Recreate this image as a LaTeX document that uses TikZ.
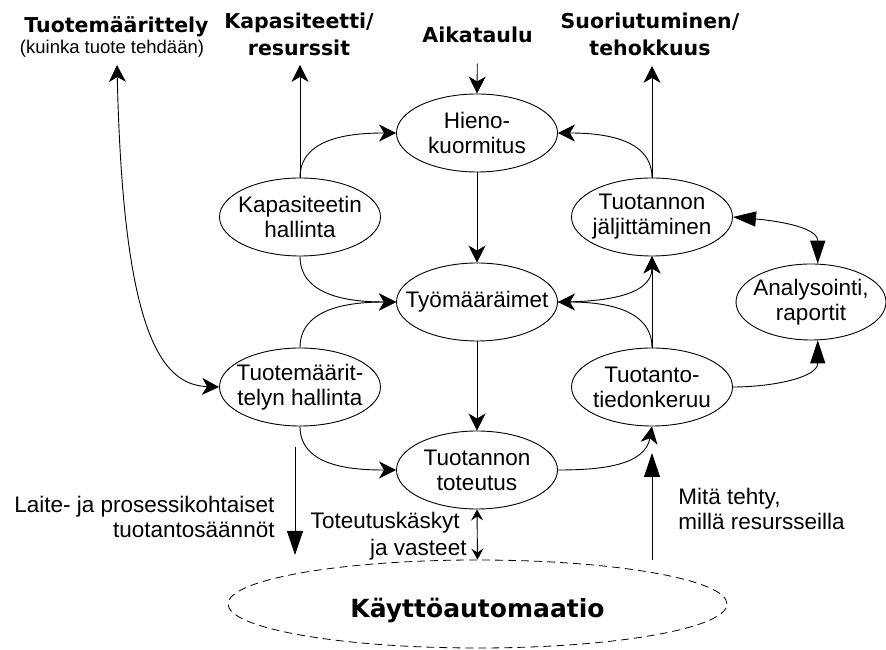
\documentclass[tikz,border=0pt]{standalone}
\usepackage{fontspec}
\setmainfont{Liberation Sans}
\newfontfamily\headfont{DejaVu Sans}
\usetikzlibrary{arrows.meta,shapes.geometric}
\begin{document}
\begin{tikzpicture}[x=1pt,y=1pt,
  >={Stealth[length=17pt,width=17pt,inset=5pt]},
  every path/.style={line width=0.9pt},
  proc/.style={ellipse,draw,minimum width=161pt,minimum height=78pt,inner xsep=-25pt,inner ysep=0pt,align=center,font=\fontsize{22.5}{25}\selectfont},
  head/.style={inner sep=0pt,align=center,font=\headfont\bfseries\fontsize{20.5}{27}\selectfont},
  lbl/.style={inner sep=0pt,font=\fontsize{22.5}{25}\selectfont},
  tri/.style={-{Triangle[length=23pt,width=15pt]}},
  tritwo/.style={{Triangle[length=23pt,width=15pt]}-{Triangle[length=23pt,width=15pt]}},
  bigtri/.style={-{Triangle[length=24pt,width=16pt]}},
  smalltwo/.style={{Stealth[length=11pt,width=12pt,inset=4pt]}-{Stealth[length=11pt,width=12pt,inset=4pt]}}
]
\useasboundingbox (0,0) rectangle (886,650);

% process ellipses
\node[proc] (hieno) at (477,517) {Hieno-\\kuormitus};
\node[proc] (kap) at (300,433) {Kapasiteetin\\hallinta};
\node[proc] (tyo) at (477,348) {Työmääräimet};
\node[proc] (tmh) at (300,263) {Tuotemäärit-\\telyn hallinta};
\node[proc] (tot) at (477,180) {Tuotannon\\toteutus};
\node[proc] (jal) at (652,433) {Tuotannon\\jäljittäminen};
\node[proc] (tdk) at (652,263) {Tuotanto-\\tiedonkeruu};
\node[proc,minimum width=150pt,minimum height=76pt] (ana) at (811,348) {Analysointi,\\raportit};
\node[ellipse,draw,dash pattern=on 8pt off 5pt,line width=0.8pt,minimum width=499pt,minimum height=88pt,inner sep=0pt,
      text height=30pt,text depth=2pt,font=\headfont\bfseries\fontsize{25}{30}\selectfont] (kaytto) at (477.5,46) {Käyttöautomaatio};

% headings
\node[head,anchor=base] (tmlab) at (116.5,617) {Tuotemäärittely};
\node[inner sep=0pt,anchor=base,font=\fontsize{18.5}{22}\selectfont] (tmsub) at (112,596) {(kuinka tuote tehdään)};
\node[head] (kaplab) at (299,616) {Kapasiteetti/\\resurssit};
\node[head,anchor=base] (aiklab) at (477.5,607) {Aikataulu};
\node[head] (suolab) at (650,616) {Suoriutuminen/\\tehokkuus};

% side labels
\node[lbl,align=right,anchor=east] (laite) at (275,133.5) {Laite- ja prosessikohtaiset\\tuotantosäännöt};
\node[lbl,align=right,anchor=east,font=\fontsize{22.5}{27}\selectfont] (totlab) at (467,114) {Toteutuskäskyt\hspace*{7pt}\\ja vasteet};
\node[lbl,align=left,anchor=west] (mita) at (678,140.6) {Mitä tehty,\\millä resursseilla};

% free ends
\coordinate (tmtip) at (117,585);
\coordinate (lpa) at (295,203);
\coordinate (lpb) at (295,95);
\coordinate (mpa) at (652,90);
\coordinate (mpb) at (652,197);

% connectors
\draw[<->] (tmtip) .. controls (123,320) and (160,265) .. (tmh.west);
\draw[->,shorten >=9pt] (kap.north) -- (kap.north |- kaplab.south);
\draw[->] (kap.north) to[out=90,in=180] (hieno.west);
\draw[->,shorten <=20pt] (aiklab.south) -- (hieno.north);
\draw[->] (hieno.south) -- (tyo.north);
\draw[->,shorten >=10pt] (jal.north) -- (jal.north |- suolab.south);
\draw[->] (jal.north) to[out=90,in=0] (hieno.east);
\draw[->] (kap.south) to[out=-90,in=180] (tyo.west);
\draw[->] (tmh.north) to[out=90,in=180] (tyo.west);
\draw[->] (tyo.south) -- (tot.north);
\draw[->] (tdk.north) -- (jal.south);
\draw[->] (tdk.north) to[out=90,in=0] (tyo.east);
\draw[->] (tyo.east) to[out=0,in=-90] (jal.south);
\draw[->] (tmh.south) to[out=-90,in=180] (tot.west);
\draw[->] (tot.east) to[out=0,in=-100] (tdk.south);
\draw[tri] (tdk.east) to[out=0,in=-90] (ana.-80);
\draw[tritwo] (jal.east) to[out=-5,in=90] (ana.80);
\draw[bigtri] (lpa) -- (lpb);
\draw[bigtri] (mpa) -- (mpb);
\draw[smalltwo] (tot.south) -- (kaytto.north);
\end{tikzpicture}
\end{document}
